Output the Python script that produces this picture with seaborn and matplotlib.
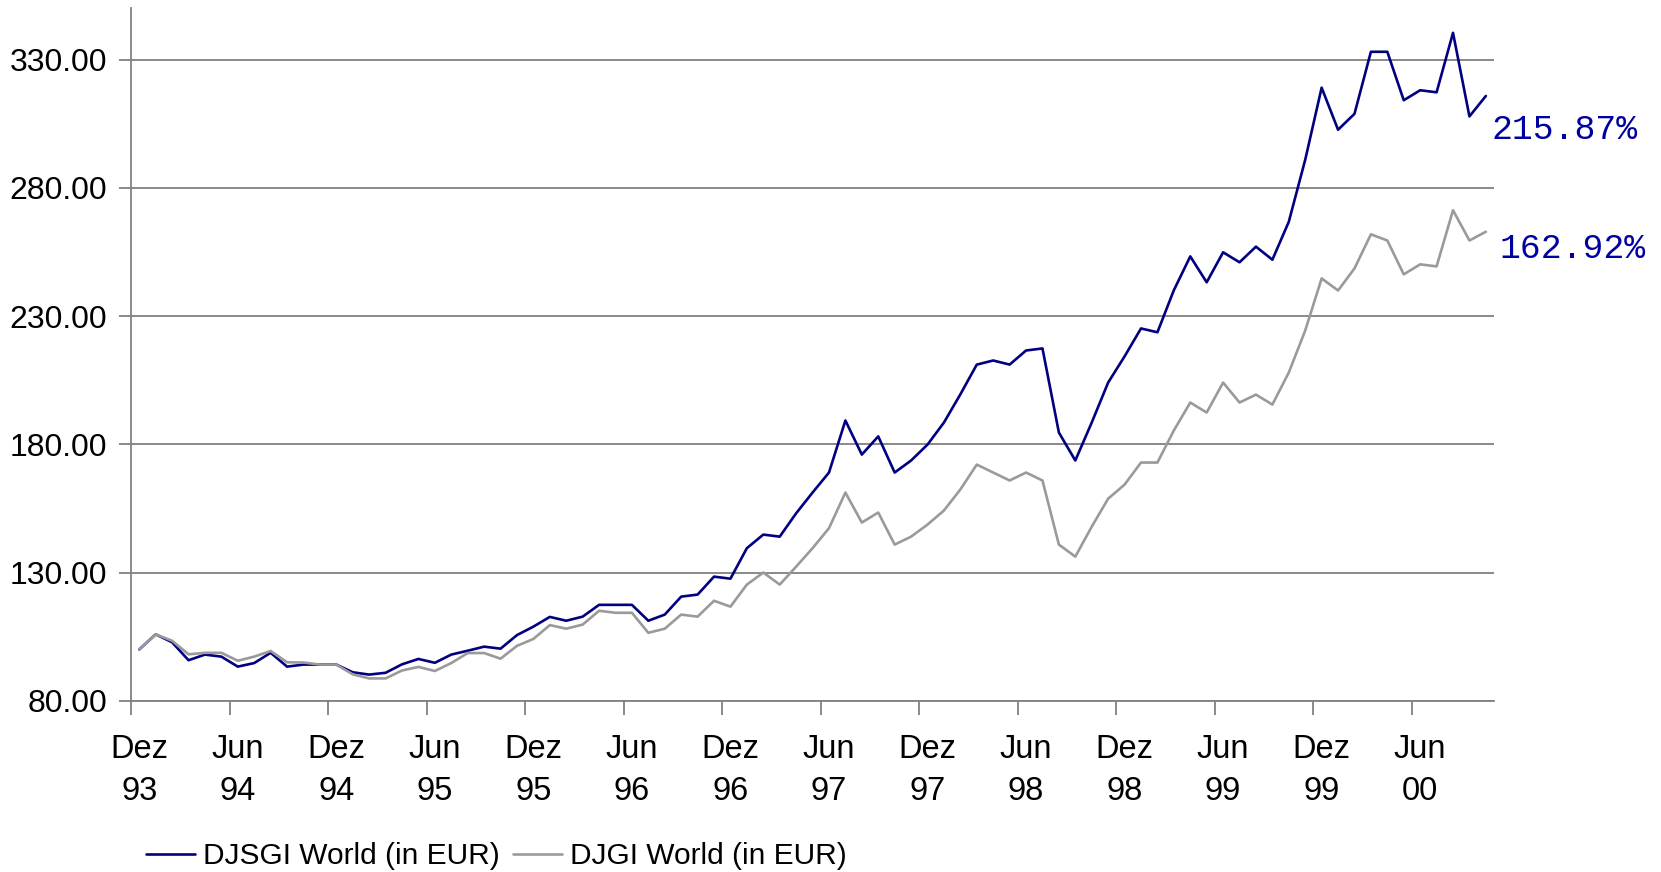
import numpy as np
import pandas as pd
import matplotlib
matplotlib.use("Agg")
import matplotlib.pyplot as plt
import seaborn as sns

# monthly index values, Dez 93 = 100
djsgi = [100.0, 105.9, 102.8, 95.8, 98.0, 97.2, 93.3, 94.7, 98.7, 93.3,
         94.1, 94.1, 94.1, 91.1, 90.2, 90.9, 94.2, 96.3, 94.8, 98.0,
         99.5, 101.1, 100.3, 105.6, 108.9, 112.7, 111.2, 112.8, 117.4, 117.4,
         117.4, 111.2, 113.6, 120.6, 121.4, 128.4, 127.6, 139.5, 144.8, 144.0,
         153.1, 161.2, 169.0, 189.3, 176.0, 183.1, 169.0, 173.7, 179.9, 188.5,
         199.5, 211.1, 212.7, 211.1, 216.6, 217.4, 184.6, 173.7, 188.5, 204.1,
         214.3, 225.2, 223.7, 240.1, 253.3, 243.2, 254.9, 251.0, 257.1, 252.0,
         266.8, 291.0, 319.1, 302.7, 308.9, 333.1, 333.1, 314.2, 318.1, 317.3,
         340.5, 307.9, 315.87]
djgi = [100.0, 105.9, 103.4, 98.1, 98.7, 98.7, 95.6, 97.2, 99.4, 95.0,
        94.9, 94.1, 94.1, 90.3, 88.7, 88.7, 91.8, 93.2, 91.6, 94.7,
        98.6, 98.6, 96.4, 101.4, 104.1, 109.5, 108.1, 109.7, 115.1, 114.3,
        114.3, 106.5, 108.1, 113.6, 112.8, 119.0, 116.7, 125.3, 130.0, 125.3,
        132.3, 139.5, 147.3, 161.2, 149.5, 153.4, 140.9, 144.0, 148.7, 154.2,
        162.4, 172.1, 169.0, 165.9, 169.0, 165.9, 140.9, 136.2, 147.9, 158.8,
        164.3, 172.9, 172.9, 185.4, 196.3, 192.4, 204.1, 196.3, 199.4, 195.5,
        208.0, 224.4, 244.7, 240.0, 248.6, 261.9, 259.5, 246.3, 250.2, 249.4,
        271.3, 259.5, 262.92]
series_names = ["DJSGI World (in EUR)", "DJGI World (in EUR)"]
end_labels = ["215.87%", "162.92%"]
tick_labels = ["Dez\n93", "Jun\n94", "Dez\n94", "Jun\n95", "Dez\n95", "Jun\n96",
               "Dez\n96", "Jun\n97", "Dez\n97", "Jun\n98", "Dez\n98", "Jun\n99",
               "Dez\n99", "Jun\n00"]
y_ticks = [80, 130, 180, 230, 280, 330]

months = np.arange(len(djsgi))
df = pd.DataFrame({
    "month": np.concatenate([months, months]),
    "value": djsgi + djgi,
    "series": [series_names[0]] * len(djsgi) + [series_names[1]] * len(djgi),
})

sns.set_theme(style="white")
plt.rcParams["font.family"] = ["Liberation Sans", "DejaVu Sans"]
plt.rcParams["text.color"] = "black"
plt.rcParams["xtick.color"] = "black"
plt.rcParams["ytick.color"] = "black"

blue = "#000080"
gray = "#9a9a9a"
axis_gray = "#808080"
lw = 1.9

fig = plt.figure(figsize=(16.61, 8.72), dpi=100)
ax = fig.add_axes([0.0789, 0.1964, 0.8206, 0.7939])

sns.lineplot(data=df, x="month", y="value", hue="series",
             palette=[blue, gray], linewidth=lw, ax=ax, legend=False)

ax.set_xlim(-0.5, len(djsgi) - 0.5)
ax.set_ylim(80, 350)
ax.set_xlabel("")
ax.set_ylabel("")

# labels on the category centres, tick marks on the boundaries
ax.set_xticks(np.arange(0, len(tick_labels) * 6, 6))
ax.set_xticklabels(tick_labels, fontsize=23.5, linespacing=1.45)
ax.set_xticks(np.arange(-0.5, len(djsgi) - 1, 6), minor=True)
ax.tick_params(axis="x", which="major", bottom=True, length=0, pad=24, labelcolor="black")
ax.tick_params(axis="x", which="minor", bottom=True, length=10, width=1.3,
               color=axis_gray, direction="out")

ax.set_yticks(y_ticks)
ax.set_yticklabels([f"{v:.2f}" for v in y_ticks], fontsize=23)
ax.tick_params(axis="y", left=True, length=9, width=1.3, color=axis_gray,
               direction="out", pad=8, labelcolor="black")

ax.grid(axis="y", color=axis_gray, linewidth=1.3)
ax.grid(axis="x", visible=False)
for side in ["top", "right"]:
    ax.spines[side].set_visible(False)
for side in ["left", "bottom"]:
    ax.spines[side].set_color(axis_gray)
    ax.spines[side].set_linewidth(1.3)

# end-of-line performance labels
ax.annotate(end_labels[0], xy=(months[-1], djsgi[-1]), xytext=(4, -24),
            textcoords="offset points", ha="left", va="center",
            fontsize=25, color="#0000a0", family="Liberation Mono")
ax.annotate(end_labels[1], xy=(months[-1], djgi[-1]), xytext=(10, -12),
            textcoords="offset points", ha="left", va="center",
            fontsize=25, color="#0000a0", family="Liberation Mono")

handles = [plt.Line2D([], [], color=blue, linewidth=lw),
           plt.Line2D([], [], color=gray, linewidth=lw)]
fig.legend(handles, series_names, loc="center left", bbox_to_anchor=(0.088, 0.018),
           ncol=2, frameon=False, fontsize=21.5, handlelength=1.65, handletextpad=0.25,
           columnspacing=0.45, borderpad=0, borderaxespad=0, labelcolor="black")

fig.savefig("out.png", dpi=100)
